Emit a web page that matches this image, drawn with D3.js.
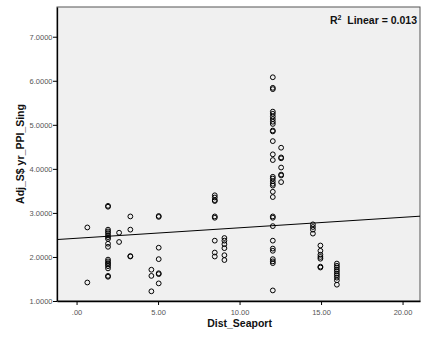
<!DOCTYPE html>
<html>
<head>
<meta charset="utf-8">
<script src="https://cdn.jsdelivr.net/npm/d3@7"></script>
<style>
  body { margin: 0; background: #fff; }
  #result { width: 427px; height: 338px; }
  text { font-family: "Liberation Sans", Arial, sans-serif; }
</style>
</head>
<body>
<div id="result"></div>
<script>
// Dist_Seaport value of each column of points
const distValues = [0.66, 1.93, 2.61, 3.3, 4.59, 5.04, 8.48, 9.07, 12.04, 12.55, 14.5, 14.96, 15.97];

// Adj_S$ yr_PPI_Sing values for each column
const ppiValues = [
    [1.42, 2.67],
    [3.16, 3.14, 2.62, 2.58, 2.54, 2.49, 2.45, 2.41, 2.30, 2.23, 1.94, 1.90, 1.86, 1.83, 1.79, 1.74, 1.57, 1.55],
    [2.55, 2.34],
    [2.92, 2.62, 2.02, 2.01],
    [1.71, 1.57, 1.22],
    [2.93, 2.91, 2.21, 1.95, 1.63, 1.61, 1.40],
    [3.40, 3.35, 3.29, 3.27, 2.92, 2.89, 2.37, 2.10, 2.01],
    [2.43, 2.37, 2.29, 2.20, 2.04, 1.93],
    [6.08, 5.84, 5.81, 5.30, 5.25, 5.19, 5.13, 5.07, 5.02, 4.87, 4.85, 4.63, 4.33, 4.20,
     3.82, 3.78, 3.72, 3.66, 3.62, 3.48, 3.36, 2.92, 2.89, 2.70, 2.37, 2.19, 2.14, 1.95, 1.90, 1.86, 1.24],
    [4.48, 4.26, 4.24, 4.03, 3.87, 3.85, 3.70],
    [2.74, 2.68, 2.62, 2.53],
    [2.26, 2.14, 2.05, 2.00, 1.96, 1.78, 1.76],
    [1.85, 1.80, 1.76, 1.71, 1.67, 1.62, 1.58, 1.53, 1.47, 1.37]
];

const xTicks = [0, 5, 10, 15, 20];
const yTicks = [1, 2, 3, 4, 5, 6, 7];

// fit line: intercept, slope
const fitLine = [2.424, 0.0238];
const r2Label = "0.013";

const points = [];
distValues.forEach(function (d, i) {
    ppiValues[i].forEach(function (v) { points.push({ dist: d, ppi: v }); });
});

const width = 427, height = 338;
const margin = { top: 7, right: 7, bottom: 37, left: 57 };
const innerW = width - margin.left - margin.right,
    innerH = height - margin.top - margin.bottom;

const svg = d3.select("#result")
    .append("svg")
    .attr("width", width)
    .attr("height", height);

const g = svg.append("g")
    .attr("transform", "translate(" + margin.left + "," + margin.top + ")");

const x = d3.scaleLinear()
    .domain([-1.2, 21.07])
    .range([0, innerW]);

const y = d3.scaleLinear()
    .domain([1, 7.675])
    .range([innerH, 0]);

g.append("rect")
    .attr("width", innerW)
    .attr("height", innerH)
    .attr("fill", "#f0f0f0")
    .attr("stroke", "#555")
    .attr("stroke-width", 1);

// fit line
g.append("line")
    .attr("x1", x(-1.2)).attr("y1", y(fitLine[0] + fitLine[1] * -1.2))
    .attr("x2", x(21.07)).attr("y2", y(fitLine[0] + fitLine[1] * 21.07))
    .attr("stroke", "#000")
    .attr("stroke-width", 1);

g.selectAll("circle")
    .data(points)
    .enter()
    .append("circle")
    .attr("cx", function (d) { return x(d.dist); })
    .attr("cy", function (d) { return y(d.ppi); })
    .attr("r", 2.4)
    .attr("fill", "none")
    .attr("stroke", "#000")
    .attr("stroke-width", 1);

const xAxis = g.append("g")
    .attr("transform", "translate(0," + innerH + ")")
    .call(d3.axisBottom(x).tickValues(xTicks).tickSize(4).tickSizeOuter(0)
        .tickFormat(function (d) { return d === 0 ? ".00" : d3.format(".2f")(d); }));

const yAxis = g.append("g")
    .call(d3.axisLeft(y).tickValues(yTicks).tickSize(4).tickSizeOuter(0)
        .tickFormat(d3.format(".4f")));

[xAxis, yAxis].forEach(function (a) {
    a.select(".domain").attr("stroke", "#000").attr("stroke-width", 1.3);
    a.selectAll(".tick line").attr("stroke", "#000");
    a.selectAll(".tick text")
        .attr("fill", "#555")
        .style("font-size", "7.5px")
        .style("font-family", "'Liberation Sans', Arial, sans-serif");
});
xAxis.selectAll(".tick text").attr("dy", "0.9em");
yAxis.selectAll(".tick text").attr("x", -4.5);

// axis titles
svg.append("text")
    .attr("x", margin.left + x(10))
    .attr("y", 327)
    .attr("text-anchor", "middle")
    .style("font-size", "10.5px")
    .style("font-weight", "bold")
    .attr("fill", "#111")
    .text("Dist_Seaport");

svg.append("text")
    .attr("transform", "translate(24," + (margin.top + innerH / 2) + ") rotate(-90)")
    .attr("text-anchor", "middle")
    .style("font-size", "10.5px")
    .style("font-weight", "bold")
    .attr("fill", "#111")
    .text("Adj_S$ yr_PPI_Sing");

// R2 label
const r2 = svg.append("text")
    .attr("x", 417)
    .attr("y", 24)
    .attr("text-anchor", "end")
    .style("font-size", "10.5px")
    .style("font-weight", "bold")
    .attr("fill", "#111");
r2.append("tspan").text("R");
r2.append("tspan").attr("dy", -4).style("font-size", "7px").text("2");
r2.append("tspan").attr("dy", 4).text("\u00a0 Linear = " + r2Label);
</script>
</body>
</html>
